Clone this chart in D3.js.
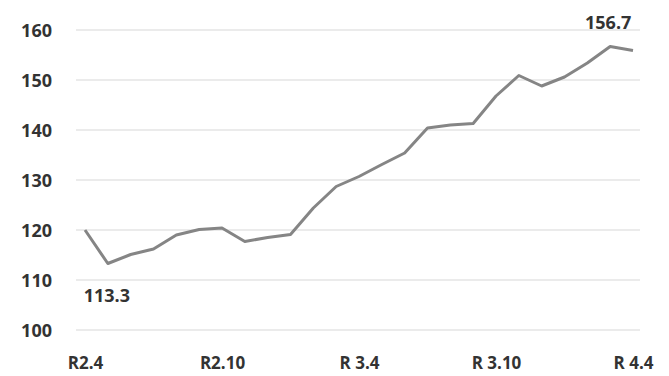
<!DOCTYPE html>
<html>
<head>
<meta charset="utf-8">
<script src="https://cdn.jsdelivr.net/npm/d3@7"></script>
<style>
  body { margin: 0; background: #fff; }
  text { font-family: "Open Sans", "Noto Sans", sans-serif; font-weight: bold; fill: #333; }
</style>
</head>
<body>
<div id="chart"></div>
<script>
// monthly index, R2.4 .. R4.4
const months = d3.range(25);
const values = [120.0, 113.3, 115.1, 116.2, 119.0, 120.1, 120.4, 117.7, 118.5, 119.1,
    124.4, 128.7, 130.7, 133.1, 135.4, 140.4, 141.0, 141.3, 146.8, 150.9,
    148.8, 150.6, 153.4, 156.7, 155.9];
const xTickIdx = [0, 6, 12, 18, 24];
const xTickLabels = ['R2.4', 'R2.10', 'R 3.4', 'R 3.10', 'R 4.4'];
const yTicks = [100, 110, 120, 130, 140, 150, 160];
const callouts = [
    {i: 1, text: '113.3', dx: -1, dy: 38},
    {i: 23, text: '156.7', dx: -2, dy: -18}
];

let width = 669,
    height = 376,
    margin = {top: 30, right: 36, bottom: 46, left: 85};

let chartWidth = width - margin.left - margin.right,
    chartHeight = height - margin.top - margin.bottom;

let svg = d3.select('#chart').append('svg')
    .attr('width', width)
    .attr('height', height);

let g = svg.append('g')
    .attr('transform', `translate(${margin.left}, ${margin.top})`);

let scaleX = d3.scaleLinear().domain([0, 24]).range([0, chartWidth]);
let scaleY = d3.scaleLinear().domain([100, 160]).range([chartHeight, 0]);

// gridlines
g.append('g')
    .selectAll('line')
    .data(yTicks)
    .enter()
    .append('line')
    .attr('x1', -9)
    .attr('x2', chartWidth + 7)
    .attr('y1', (d) => scaleY(d))
    .attr('y2', (d) => scaleY(d))
    .attr('stroke', '#e4e4e4')
    .attr('stroke-width', 1.5);

// y axis labels
let yAxis = d3.axisLeft(scaleY).tickValues(yTicks).tickSize(0).tickPadding(33);
g.append('g')
    .call(yAxis)
    .call((a) => a.select('.domain').remove())
    .selectAll('text')
    .attr('font-size', 18)
    .attr('font-family', '"Open Sans", sans-serif')
    .attr('dy', '0.35em');

// x axis labels
let xAxis = d3.axisBottom(scaleX)
    .tickValues(xTickIdx)
    .tickFormat((d, i) => xTickLabels[i])
    .tickSize(0)
    .tickPadding(27);
g.append('g')
    .attr('transform', `translate(0, ${chartHeight})`)
    .call(xAxis)
    .call((a) => a.select('.domain').remove())
    .selectAll('text')
    .attr('font-family', '"Open Sans", sans-serif')
    .attr('font-size', 17);

// line
let line = d3.line()
    .x((d) => scaleX(d))
    .y((d) => scaleY(values[d]));

g.append('path')
    .datum(months)
    .attr('fill', 'none')
    .attr('stroke', '#858585')
    .attr('stroke-width', 3)
    .attr('stroke-linejoin', 'round')
    .attr('d', line);

// value labels
g.selectAll('.callout')
    .data(callouts)
    .enter()
    .append('text')
    .attr('class', 'callout')
    .attr('x', (d) => scaleX(d.i) + d.dx)
    .attr('y', (d) => scaleY(values[d.i]) + d.dy)
    .attr('text-anchor', 'middle')
    .attr('font-size', 18)
    .text((d) => d.text);
</script>
</body>
</html>
